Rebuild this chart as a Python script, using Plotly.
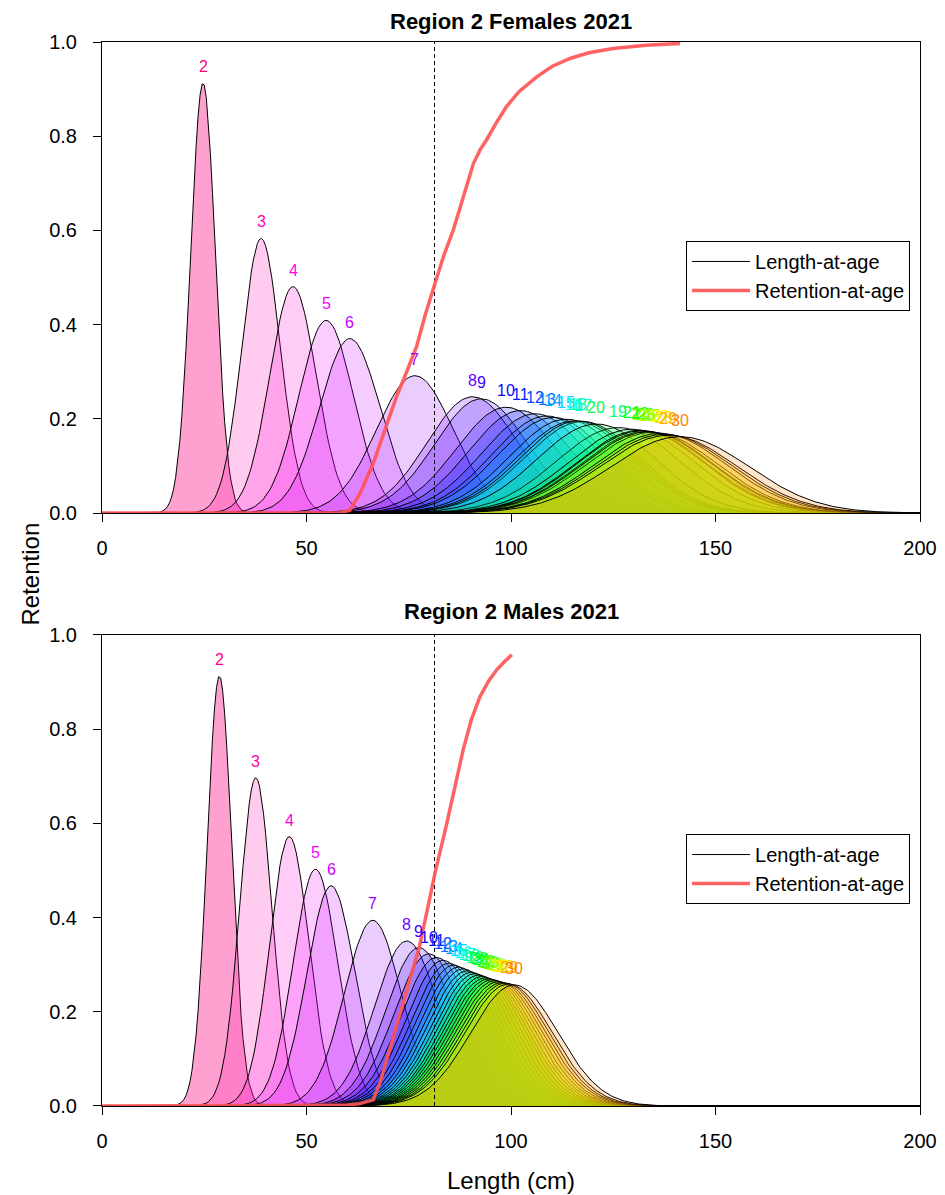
import colorsys
import numpy as np
import plotly.graph_objects as go

# ages shown in both panels
ages = list(range(2, 31))

fem_mean = [24.7, 38.9, 46.7, 54.8, 60.6, 76.5, 90.6, 92.7, 98.8, 102.3,
            105.9, 108.7, 110.3, 113.5, 115.5, 117.5, 116.5, 126.2, 120.9, 129.5,
            131.5, 133.0, 132.0, 134.5, 133.5, 136.5, 137.5, 138.5, 141.3]
fem_sd = [3.0, 4.7, 5.7, 6.7, 7.4, 9.4, 11.1, 11.3, 12.2, 12.6,
          13.0, 13.3, 13.5, 13.75, 14.0, 14.1, 14.0, 15.1, 14.5, 15.4,
          15.6, 15.8, 15.7, 16.0, 15.9, 16.2, 16.4, 16.6, 16.9]

# Males
male_mean = [28.7, 37.6, 45.8, 52.2, 56.0, 66.2, 74.5, 77.5, 79.9, 81.8,
             83.4, 84.8, 86.0, 87.2, 88.3, 89.3, 90.3, 91.2, 92.1, 93.0,
             93.8, 94.6, 95.4, 96.2, 97.0, 97.8, 98.6, 99.4, 100.8]
male_sd = [3.0, 3.93, 4.79, 5.45, 5.86, 6.95, 7.82, 8.15, 8.48, 8.69,
           8.86, 9.04, 9.16, 9.29, 9.41, 9.55, 9.65, 9.75, 9.86, 9.96,
           10.07, 10.15, 10.22, 10.30, 10.38, 10.46, 10.5, 10.58, 10.66]
curve_scale = 2.74  # peak height * sd

# retention-at-length curves
fem_ret_x = [0, 58, 60.6, 63, 66.3, 69, 72, 74.5, 76.9, 79, 81.4, 83.5, 85.9,
             88.5, 90.8, 92.5, 94, 96.5, 98.9, 102, 106.3, 110, 114.4, 119,
             125, 133, 141.3]
fem_ret_y = [0, 0, 0.006, 0.04, 0.105, 0.17, 0.247, 0.30, 0.353, 0.42, 0.488,
             0.545, 0.601, 0.675, 0.742, 0.772, 0.792, 0.830, 0.863, 0.895,
             0.926, 0.948, 0.965, 0.977, 0.986, 0.993, 0.997]
male_ret_x = [0, 60, 63, 66.3, 68, 70, 72, 75, 77.6, 79.5, 81.4, 84.3, 86.3,
              88.3, 90.3, 92.4, 94.5, 96.5, 98.5, 100.2]
male_ret_y = [0, 0.002, 0.005, 0.013, 0.05, 0.11, 0.176, 0.26, 0.338, 0.415,
              0.494, 0.600, 0.68, 0.756, 0.82, 0.869, 0.902, 0.926, 0.944,
              0.958]

size_limit = 81.3

lengths = np.arange(0, 200.5, 0.5)

ret_colour = "rgba(255,85,85,0.92)"


def age_colour(age, alpha=1.0):
    h = ((330 - (age - 2) * 300 / 28) % 360) / 360
    r, g, b = colorsys.hsv_to_rgb(h, 1, 1)
    return f"rgba({int(r*255)},{int(g*255)},{int(b*255)},{alpha})"


fig = go.Figure()

panels = [
    (fem_mean, fem_sd, fem_ret_x, fem_ret_y, "x", "y"),
    (male_mean, male_sd, male_ret_x, male_ret_y, "x2", "y2"),
]

for means, sds, rx, ry, xa, ya in panels:
    for age, m, s in zip(ages, means, sds):
        peak = curve_scale / s
        dens = peak * np.exp(-0.5 * ((lengths - m) / s) ** 2)
        alpha = 0.37 if age == 2 else 0.2
        fig.add_trace(go.Scatter(
            x=lengths, y=dens, xaxis=xa, yaxis=ya, mode="lines",
            fill="toself", fillcolor=age_colour(age, alpha),
            line=dict(color="black", width=1), showlegend=False,
            hoverinfo="skip"))
    fig.add_trace(go.Scatter(
        x=[size_limit, size_limit], y=[0, 1], xaxis=xa, yaxis=ya,
        mode="lines", line=dict(color="black", width=1, dash="4px,3px"),
        showlegend=False))
    fig.add_trace(go.Scatter(
        x=rx, y=ry, xaxis=xa, yaxis=ya, mode="lines",
        line=dict(color=ret_colour, width=3.5),
        showlegend=False))
    for age, m, s in zip(ages, means, sds):
        fig.add_annotation(
            x=m, y=curve_scale / s, xref=xa, yref=ya, text=str(age),
            showarrow=False, yanchor="bottom", yshift=6,
            font=dict(size=16, color=age_colour(age)))

# legend entries
for leg in ["legend", "legend2"]:
    xa, ya = ("x", "y") if leg == "legend" else ("x2", "y2")
    fig.add_trace(go.Scatter(x=[None], y=[None], xaxis=xa, yaxis=ya,
                             mode="lines", name="Length-at-age",
                             line=dict(color="black", width=1), legend=leg))
    fig.add_trace(go.Scatter(x=[None], y=[None], xaxis=xa, yaxis=ya,
                             mode="lines", name="Retention-at-age",
                             line=dict(color=ret_colour, width=3.5),
                             legend=leg))

axis_style = dict(range=[0, 200], showline=True, linecolor="black",
                  linewidth=1, mirror=True, ticks="outside", ticklen=8,
                  tickcolor="black", showgrid=False, zeroline=False,
                  tickvals=[0, 50, 100, 150, 200], ticklabelstandoff=9,
                  tickfont=dict(size=20, color="black"))
yaxis_style = dict(range=[0, 1], showline=True, linecolor="black",
                   linewidth=1, mirror=True, ticks="outside", ticklen=8,
                   tickcolor="black", showgrid=False, zeroline=False,
                   tickvals=[0, 0.2, 0.4, 0.6, 0.8, 1.0], tickformat=".1f",
                   ticklabelstandoff=12,
                   tickfont=dict(size=20, color="black"))

legend_style = dict(bgcolor="white", bordercolor="black", borderwidth=1,
                    font=dict(size=20, color="black"), xanchor="left",
                    yanchor="top", tracegroupgap=0, itemwidth=58)

# page body adds 8px offset, so margins are shifted by 8
fig.update_layout(
    width=945, height=1195,
    margin=dict(l=94, r=33, t=34, b=97),
    plot_bgcolor="white", paper_bgcolor="white",
    font=dict(family="Liberation Sans, Arial", color="black"),
    xaxis=dict(axis_style, domain=[0, 1], anchor="y"),
    yaxis=dict(yaxis_style, domain=[0.5573, 1], anchor="x"),
    xaxis2=dict(axis_style, domain=[0, 1], anchor="y2"),
    yaxis2=dict(yaxis_style, domain=[0, 0.4427], anchor="x2"),
    legend=dict(legend_style, x=0.714, y=0.813),
    legend2=dict(legend_style, x=0.714, y=0.2556),
)

fig.add_annotation(x=0.5, y=1, xref="paper", yref="paper", yanchor="middle",
                   yshift=21, showarrow=False, borderpad=0,
                   text="<b>Region 2 Females 2021</b>", font=dict(size=22))
fig.add_annotation(x=0.5, y=0.4427, xref="paper", yref="paper",
                   yanchor="middle", yshift=23, showarrow=False,
                   text="<b>Region 2 Males 2021</b>", font=dict(size=22))
fig.add_annotation(x=0, y=0.5, xref="paper", yref="paper", xshift=-88,
                   showarrow=False, textangle=-90, text="Retention",
                   font=dict(size=24))
fig.add_annotation(x=0.5, y=0, xref="paper", yref="paper", yanchor="middle",
                   yshift=-74, showarrow=False, text="Length (cm)",
                   font=dict(size=24))

fig.write_html("out.html")
